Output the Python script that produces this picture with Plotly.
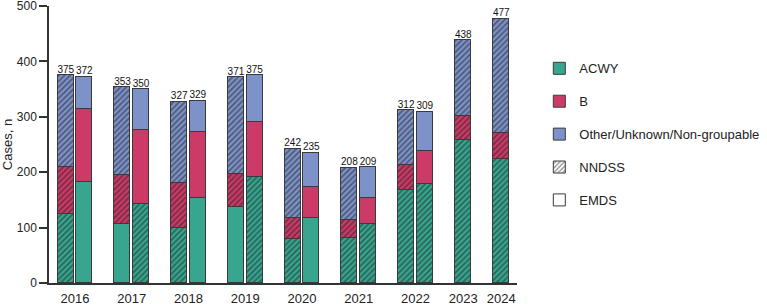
import plotly.graph_objects as go

# ---------------- data ----------------
years = ["2016", "2017", "2018", "2019", "2020", "2021", "2022", "2023", "2024"]
bar_year = ["2016", "2016", "2017", "2017", "2018", "2018", "2019", "2019",
            "2020", "2020", "2021", "2021", "2022", "2022", "2023", "2024"]
bar_source = ["NNDSS", "EMDS"] * 7 + ["NNDSS", "NNDSS"]
acwy = [125, 183, 106, 142, 99, 154, 137, 192, 79, 118, 82, 107, 167, 178, 258, 223]
b_grp = [85, 131, 89, 134, 81, 118, 60, 98, 39, 55, 31, 46, 46, 60, 44, 47]
other = [165, 58, 158, 74, 147, 57, 174, 85, 124, 62, 95, 56, 99, 71, 136, 207]
# which segments are drawn hatched in the original figure
acwy_hatched = [1, 0, 0, 1, 1, 0, 0, 1, 1, 0, 1, 1, 1, 1, 1, 1]
b_hatched = [1, 0] * 7 + [1, 1]
other_hatched = [1, 0] * 7 + [1, 1]

# ---------------- layout helpers ----------------
C_ACWY = "#38a68f"
C_B = "#cc3a68"
C_OTH = "#7d92c9"
EDGE = "#3a3a3a"
FONT = "Arial, Liberation Sans, sans-serif"

# group centres: paired years on unit spacing, single years closer together
centers = {}
pos = 0.0
for i, yr in enumerate(years):
    n = bar_year.count(yr)
    if i > 0:
        prev_n = bar_year.count(years[i - 1])
        if prev_n == 2 and n == 2:
            pos += 1.0
        elif prev_n == 2 and n == 1:
            pos += 0.843
        else:
            pos += 0.67
    centers[yr] = pos

xs = []
seen = {}
for yr in bar_year:
    n = bar_year.count(yr)
    k = seen.get(yr, 0)
    seen[yr] = k + 1
    off = [-0.164, 0.164][k] if n == 2 else 0.0
    xs.append(centers[yr] + off)

totals = [a + bb + o for a, bb, o in zip(acwy, b_grp, other)]

fig = go.Figure()
BW = 0.282
PAT = dict(fgcolor="#1c1c1c", size=4, solidity=0.42)
for name, vals, hatch, col in [("ACWY", acwy, acwy_hatched, C_ACWY),
                               ("B", b_grp, b_hatched, C_B),
                               ("Other/Unknown/Non-groupable", other, other_hatched, C_OTH)]:
    fig.add_trace(go.Bar(
        x=xs, y=vals, width=BW, showlegend=False, name=name,
        marker=dict(color=col, line=dict(color=EDGE, width=1),
                    pattern=dict(shape=["/" if h else "" for h in hatch], **PAT)),
        hoverinfo="skip"))

fig.add_trace(go.Scatter(
    x=xs, y=totals, mode="text", text=[str(t) for t in totals],
    textposition="top center", textfont=dict(size=10, color="#111", family=FONT),
    showlegend=False, hoverinfo="skip", cliponaxis=False))

# legend-only entries
for i, (name, col, shp) in enumerate([("ACWY", C_ACWY, ""), ("B", C_B, ""),
                                     ("Other/Unknown/Non-groupable", C_OTH, ""),
                                     ("NNDSS", "white", "/"), ("EMDS", "white", "")]):
    fig.add_trace(go.Bar(
        x=[None], y=[None], name=name, legendgroup="g%d" % i, showlegend=True,
        marker=dict(color=col, line=dict(color=EDGE, width=1),
                    pattern=dict(shape=shp, **PAT))))

fig.update_layout(
    width=767, height=307,
    margin=dict(l=49, r=250, t=6, b=24, autoexpand=False),
    plot_bgcolor="white", paper_bgcolor="white",
    barmode="stack", bargap=0,
    font=dict(family=FONT, color="#222"),
    showlegend=True,
    legend=dict(x=1.0477, xanchor="left", y=0.829, yanchor="top",
                font=dict(size=13, family=FONT, color="#222"),
                tracegroupgap=13, traceorder="grouped",
                bgcolor="rgba(0,0,0,0)"),
)
fig.update_xaxes(range=[-0.459, 7.79], tickvals=[centers[y] for y in years],
                 ticktext=years, showline=True, linecolor="#333", linewidth=1.5,
                 ticks="", showgrid=False, zeroline=False, ticklabelstandoff=3,
                 automargin=False, tickfont=dict(size=13, color="#222", family=FONT))
fig.update_yaxes(range=[0, 500], dtick=100, ticks="outside", ticklen=8,
                 tickwidth=1.5, tickcolor="#333", showline=True, linecolor="#333",
                 linewidth=1.5, showgrid=False, zeroline=False, automargin=False,
                 ticklabeloverflow="allow",
                 tickfont=dict(size=12, color="#222", family=FONT),
                 title=dict(text="Cases, n", font=dict(size=13, color="#222", family=FONT),
                            standoff=6))

fig.write_html("out.html")
